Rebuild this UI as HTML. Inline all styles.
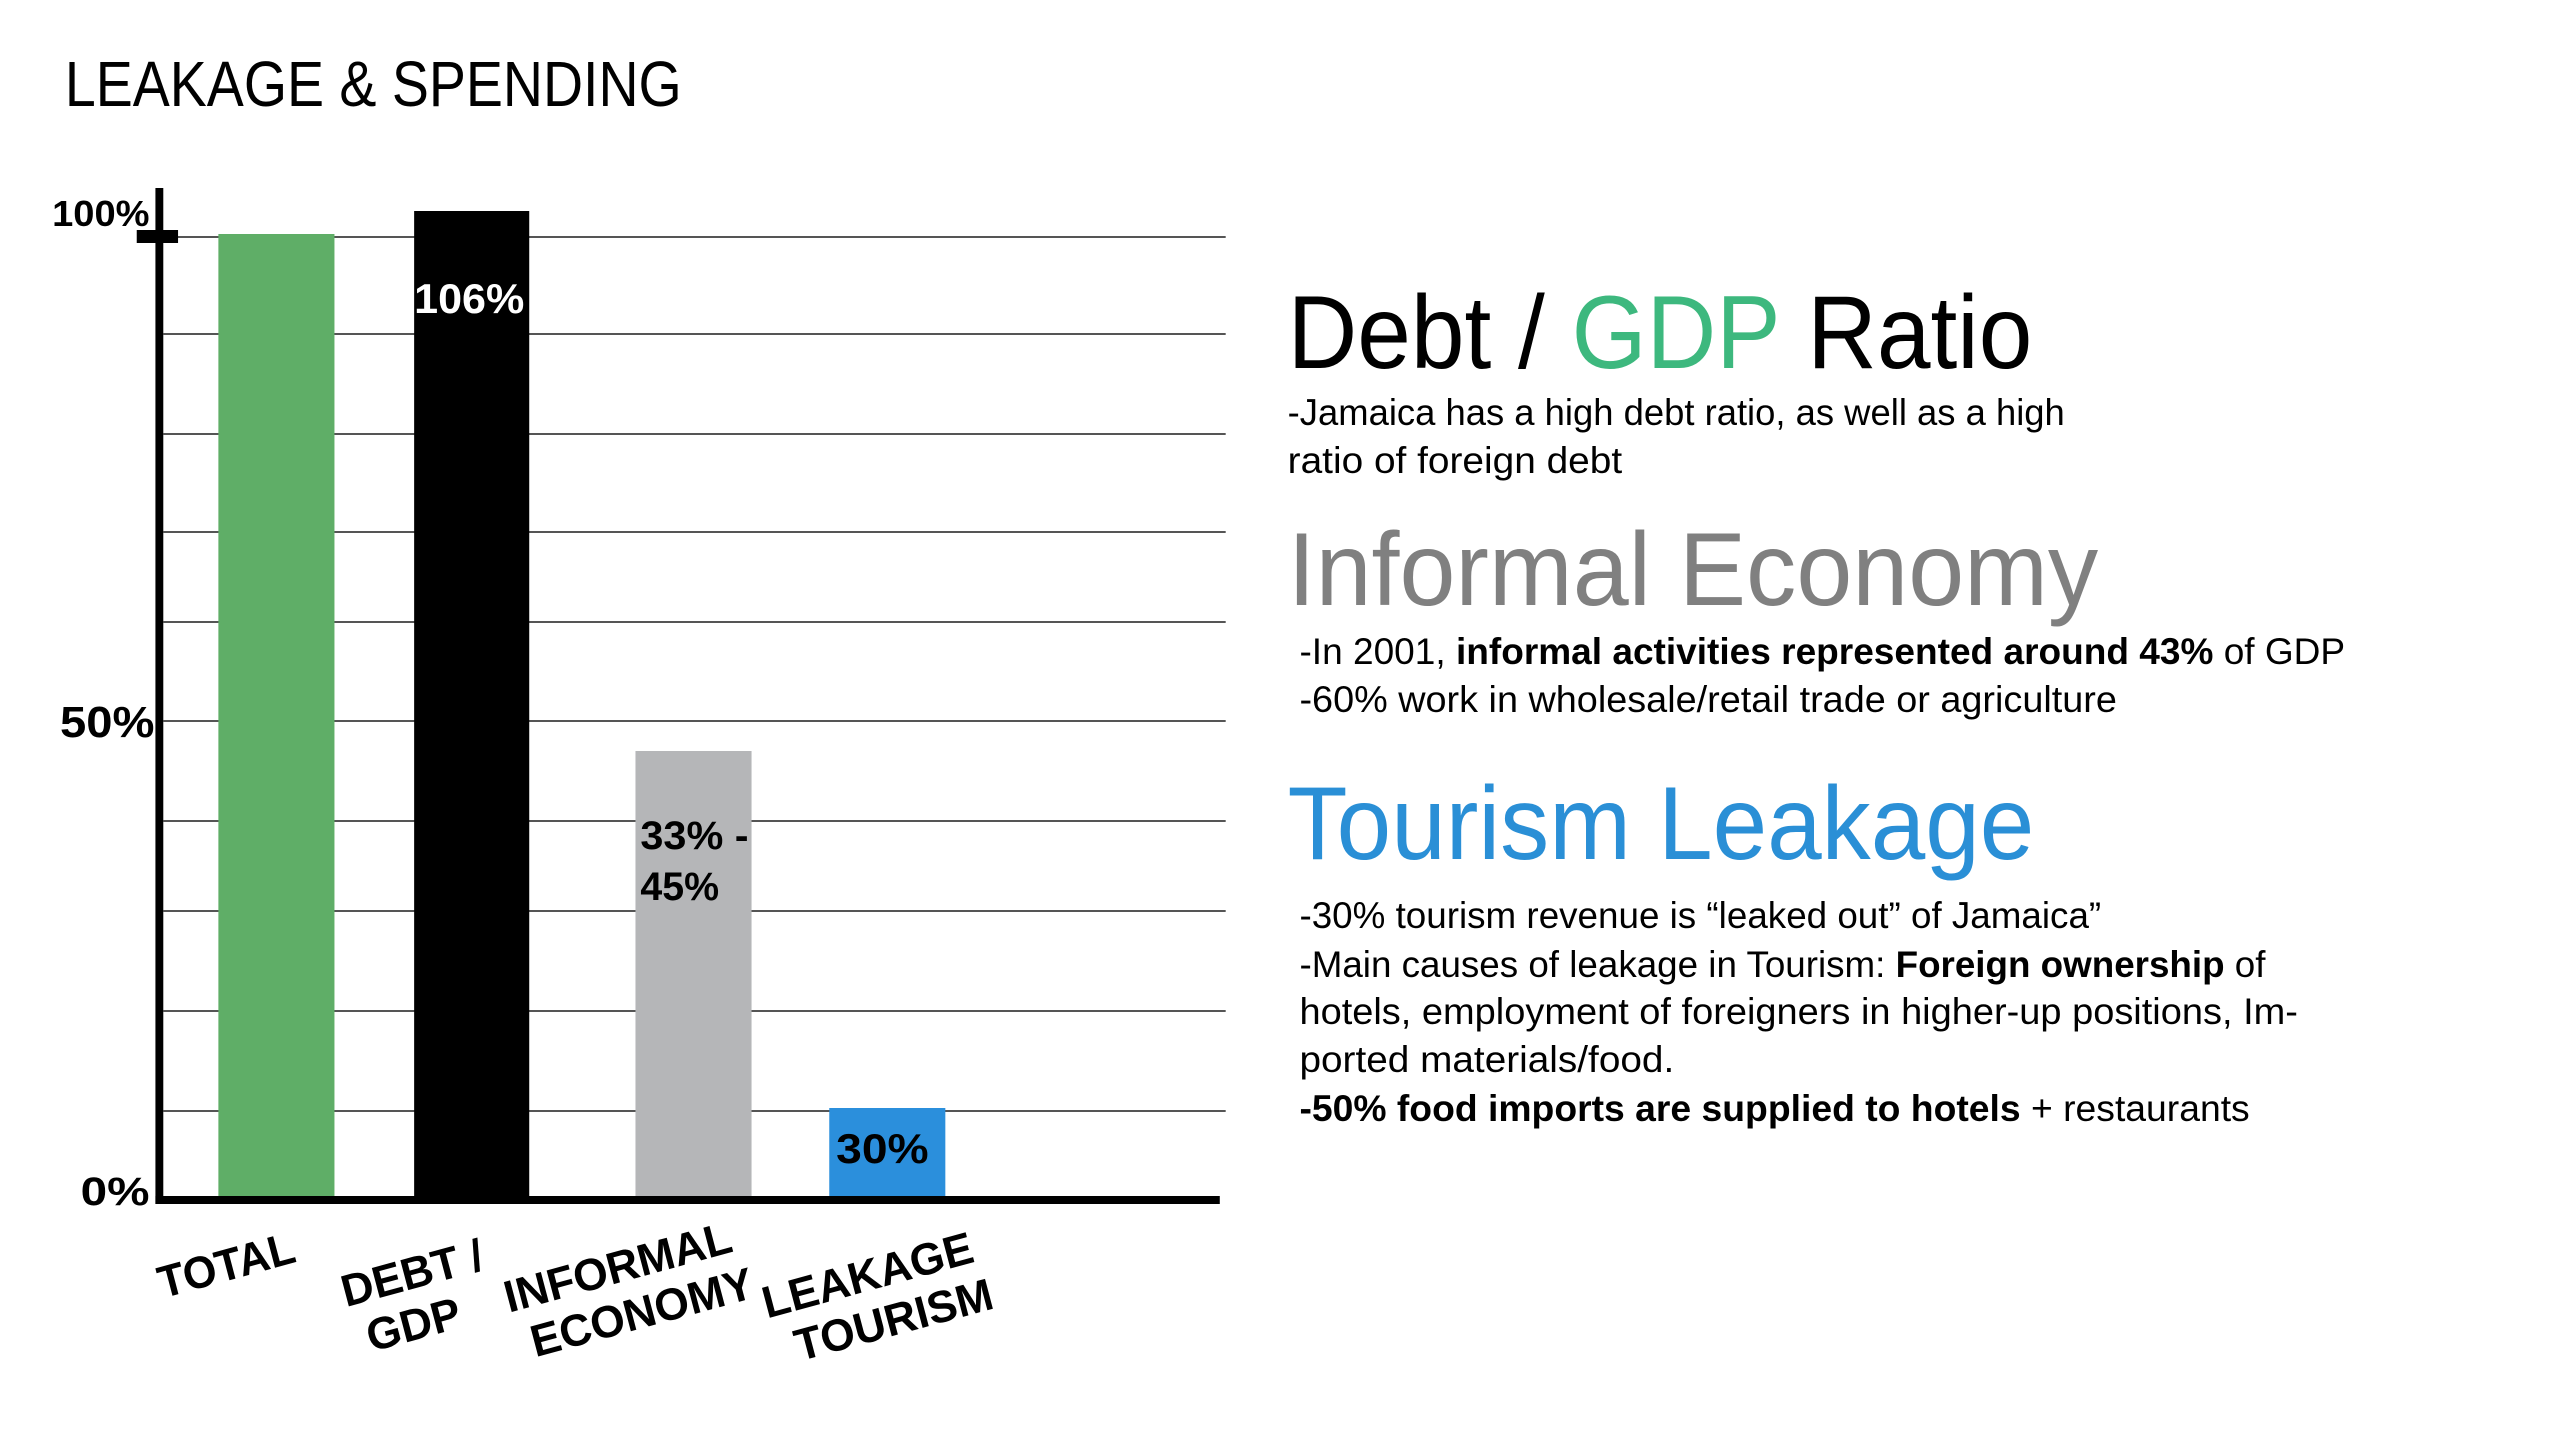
<!DOCTYPE html>
<html><head><meta charset="utf-8"><style>html,body{margin:0;padding:0;background:#fff}svg{display:block}</style></head>
<body>
<svg width="2560" height="1440" viewBox="0 0 2560 1440" xmlns="http://www.w3.org/2000/svg" font-family="Liberation Sans, sans-serif">
<rect width="2560" height="1440" fill="#fff"/>
<g transform="scale(0.9837 1)">
<text x="66" y="106" font-size="64" textLength="627" lengthAdjust="spacingAndGlyphs">LEAKAGE &amp; SPENDING</text>
<g stroke="#555" stroke-width="2">
<line x1="166" y1="237" x2="1246" y2="237"/>
<line x1="166" y1="334" x2="1246" y2="334"/>
<line x1="166" y1="434" x2="1246" y2="434"/>
<line x1="166" y1="532" x2="1246" y2="532"/>
<line x1="166" y1="622" x2="1246" y2="622"/>
<line x1="166" y1="721" x2="1246" y2="721"/>
<line x1="166" y1="821" x2="1246" y2="821"/>
<line x1="166" y1="911" x2="1246" y2="911"/>
<line x1="166" y1="1011" x2="1246" y2="1011"/>
<line x1="166" y1="1111" x2="1246" y2="1111"/>
</g>
<rect x="222" y="234" width="118" height="966" fill="#5fae67"/>
<rect x="421" y="211" width="117" height="989" fill="#000"/>
<rect x="646" y="751" width="118" height="449" fill="#b5b6b8"/>
<rect x="843" y="1108" width="118" height="92" fill="#2b8fdc"/>
<rect x="158" y="188" width="8" height="1016" fill="#000"/>
<rect x="158" y="1196" width="1082" height="8" fill="#000"/>
<rect x="139" y="230" width="42" height="13" fill="#000"/>
<g font-weight="bold" fill="#000">
<text x="53" y="226" font-size="36" textLength="99" lengthAdjust="spacingAndGlyphs">100%</text>
<text x="61" y="737" font-size="44" textLength="96" lengthAdjust="spacingAndGlyphs">50%</text>
<text x="82" y="1205" font-size="40" textLength="70" lengthAdjust="spacingAndGlyphs">0%</text>
<text x="421" y="313" font-size="42" fill="#fff" textLength="112" lengthAdjust="spacingAndGlyphs">106%</text>
<text x="651" y="849" font-size="40" textLength="110" lengthAdjust="spacingAndGlyphs">33% -</text>
<text x="651" y="900" font-size="40" textLength="80" lengthAdjust="spacingAndGlyphs">45%</text>
<text x="850" y="1163" font-size="42" textLength="94" lengthAdjust="spacingAndGlyphs">30%</text>
<g font-size="45" text-anchor="middle">
<text transform="translate(234,1280) rotate(-15)" textLength="142" lengthAdjust="spacingAndGlyphs">TOTAL</text>
<text transform="translate(423,1288) rotate(-15)"><tspan x="0" y="0">DEBT /</tspan><tspan x="-12" y="50">GDP</tspan></text>
<text transform="translate(632,1282) rotate(-15)"><tspan x="0" y="0">INFORMAL</tspan><tspan x="12" y="50">ECONOMY</tspan></text>
<text transform="translate(886,1290) rotate(-15)"><tspan x="0" y="0">LEAKAGE</tspan><tspan x="14" y="50">TOURISM</tspan></text>
</g>
</g>
<text x="1309" y="368" font-size="104" textLength="757" lengthAdjust="spacingAndGlyphs">Debt / <tspan fill="#3db87e">GDP</tspan> Ratio</text>
<g font-size="37">
<text x="1309" y="425" textLength="790" lengthAdjust="spacingAndGlyphs">-Jamaica has a high debt ratio, as well as a high</text>
<text x="1309" y="473" textLength="340" lengthAdjust="spacingAndGlyphs">ratio of foreign debt</text>
</g>
<text x="1309" y="605" font-size="104" fill="#808080" textLength="824" lengthAdjust="spacingAndGlyphs">Informal Economy</text>
<g font-size="37">
<text x="1321" y="664" textLength="1063" lengthAdjust="spacingAndGlyphs">-In 2001, <tspan font-weight="bold">informal activities represented around 43%</tspan> of GDP</text>
<text x="1321" y="712" textLength="831" lengthAdjust="spacingAndGlyphs">-60% work in wholesale/retail trade or agriculture</text>
</g>
<text x="1309" y="859" font-size="104" fill="#2a8fd6" textLength="759" lengthAdjust="spacingAndGlyphs">Tourism Leakage</text>
<g font-size="37">
<text x="1321" y="928" textLength="815" lengthAdjust="spacingAndGlyphs">-30% tourism revenue is “leaked out” of Jamaica”</text>
<text x="1321" y="977" textLength="982" lengthAdjust="spacingAndGlyphs">-Main causes of leakage in Tourism: <tspan font-weight="bold">Foreign ownership</tspan> of</text>
<text x="1321" y="1024" textLength="1015" lengthAdjust="spacingAndGlyphs">hotels, employment of foreigners in higher-up positions, Im-</text>
<text x="1321" y="1072" textLength="381" lengthAdjust="spacingAndGlyphs">ported materials/food.</text>
<text x="1321" y="1121" textLength="966" lengthAdjust="spacingAndGlyphs"><tspan font-weight="bold">-50% food imports are supplied to hotels</tspan> + restaurants</text>
</g>
</g>
</svg>
</body></html>
